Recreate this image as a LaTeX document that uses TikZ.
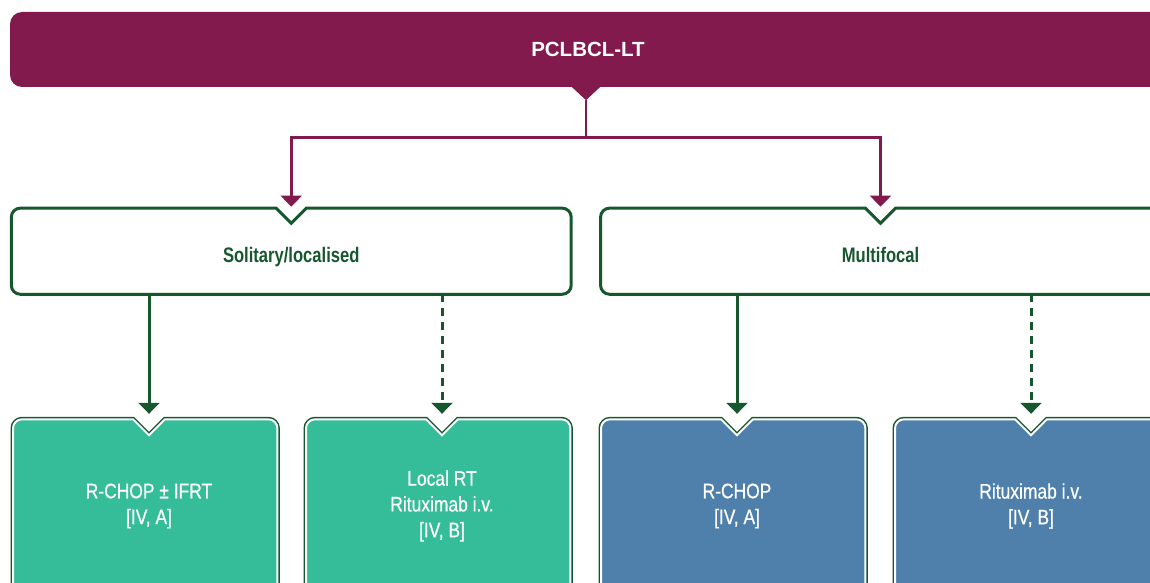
\documentclass[tikz,border=0pt]{standalone}
\usepackage{fontspec}
\setmainfont{Liberation Sans}
\newfontfamily\labelfont[FakeStretch=0.79]{Liberation Sans}
\newfontfamily\treatfont[FakeStretch=0.83,FakeBold=0.6]{Liberation Sans}
\usetikzlibrary{arrows.meta}

\definecolor{plum}{RGB}{130,26,77}
\definecolor{pine}{RGB}{23,87,46}
\definecolor{jade}{RGB}{52,189,152}
\definecolor{steel}{RGB}{78,128,171}

\pgfdeclarelayer{back}
\pgfsetlayers{back,main}

% frame of a box with a notch on top: node, notch size, shift of the frame
\def\rr{9pt}
\def\notched#1#2#3{([yshift=-#2]#1.north) -- ([xshift=#2]#1.north)
  -- ([xshift=#3-\rr]#1.north east) arc[start angle=90,end angle=0,radius=\rr]
  -- ([xshift=#3,yshift=\rr]#1.south east) arc[start angle=0,end angle=-90,radius=\rr]
  -- ([xshift=#3+\rr]#1.south west) arc[start angle=-90,end angle=-180,radius=\rr]
  -- ([xshift=#3,yshift=-\rr]#1.north west) arc[start angle=180,end angle=90,radius=\rr]
  -- ([xshift=-#2]#1.north) -- cycle}

\begin{document}
\begin{tikzpicture}[x=1pt,y=1pt,
  plumline/.style={draw=plum, line width=2.5pt},
  pineline/.style={draw=pine, line width=3pt},
  tip/.style={-{Triangle[width=21pt,length=11pt]}},
  group/.style={inner sep=0pt, minimum width=559.5pt, minimum height=85.7pt,
    text=pine, font=\labelfont\bfseries\fontsize{21}{24}\selectfont,
    text height=23.5pt, text depth=0pt},
  treat/.style={inner sep=0pt, minimum width=264pt, minimum height=173pt,
    text=white, align=center, font=\treatfont\fontsize{21}{25.8}\selectfont},
  groupframe/.style={draw=pine, line width=3pt, fill=white},
  treatframe/.style={fill=#1, draw=white, line width=2pt,
    preaction={draw=pine, line width=5pt}},
]
  \useasboundingbox (0,0) rectangle (1150,-583);

  % title
  \node[fill=plum, rounded corners=12pt, inner sep=0pt, minimum width=1156pt,
    minimum height=75pt, text=white, font=\bfseries\fontsize{20.5}{24}\selectfont]
    (pclbcl) at (588,-49.5) {PCLBCL-LT};
  \coordinate (tab) at ([xshift=-2pt,yshift=-13pt]pclbcl.south);
  \fill[plum] (tab) -- ++(-15,14) -- ++(30,0) -- cycle;

  % groups
  \node[group] (sol) at (291.25,-251.2) {Solitary/localised};
  \node[group] (multi) at (880.5,-251.2) {Multifocal};

  % treatments
  \node[treat] (rchopifrt) at (149,-506) {R-CHOP ± IFRT\\{}[IV, A]};
  \node[treat] (localrt) at (442,-506) {Local RT\\Rituximab i.v.\\{}[IV, B]};
  \node[treat] (rchop) at (737,-506) {R-CHOP\\{}[IV, A]};
  \node[treat] (ritux) at (1031,-506) {Rituximab i.v.\\{}[IV, B]};

  \begin{pgfonlayer}{back}
    \draw[groupframe] \notched{sol}{15pt}{0pt};
    \draw[groupframe] \notched{multi}{15pt}{0pt};
    \draw[treatframe=jade] \notched{rchopifrt}{16pt}{-3.8pt};
    \draw[treatframe=jade] \notched{localrt}{16pt}{-3.8pt};
    \draw[treatframe=steel] \notched{rchop}{16pt}{-3.8pt};
    \draw[treatframe=steel] \notched{ritux}{16pt}{-3.8pt};
  \end{pgfonlayer}

  % connectors
  \coordinate (fork) at ([yshift=-37.5pt]tab);
  \draw[plumline] (tab) -- (fork);
  \draw[plumline,tip,shorten >=1.5pt] (fork) -| (sol.north);
  \draw[plumline,tip,shorten >=1.5pt] (fork) -| (multi.north);

  \draw[pineline,tip,shorten >=5.5pt] (sol.south -| rchopifrt.north) -- (rchopifrt.north);
  \draw[pineline,tip,shorten >=5.5pt,dash pattern=on 8pt off 6pt] (sol.south -| localrt.north) -- (localrt.north);
  \draw[pineline,tip,shorten >=5.5pt] (multi.south -| rchop.north) -- (rchop.north);
  \draw[pineline,tip,shorten >=5.5pt,dash pattern=on 8pt off 6pt] (multi.south -| ritux.north) -- (ritux.north);
\end{tikzpicture}
\end{document}
